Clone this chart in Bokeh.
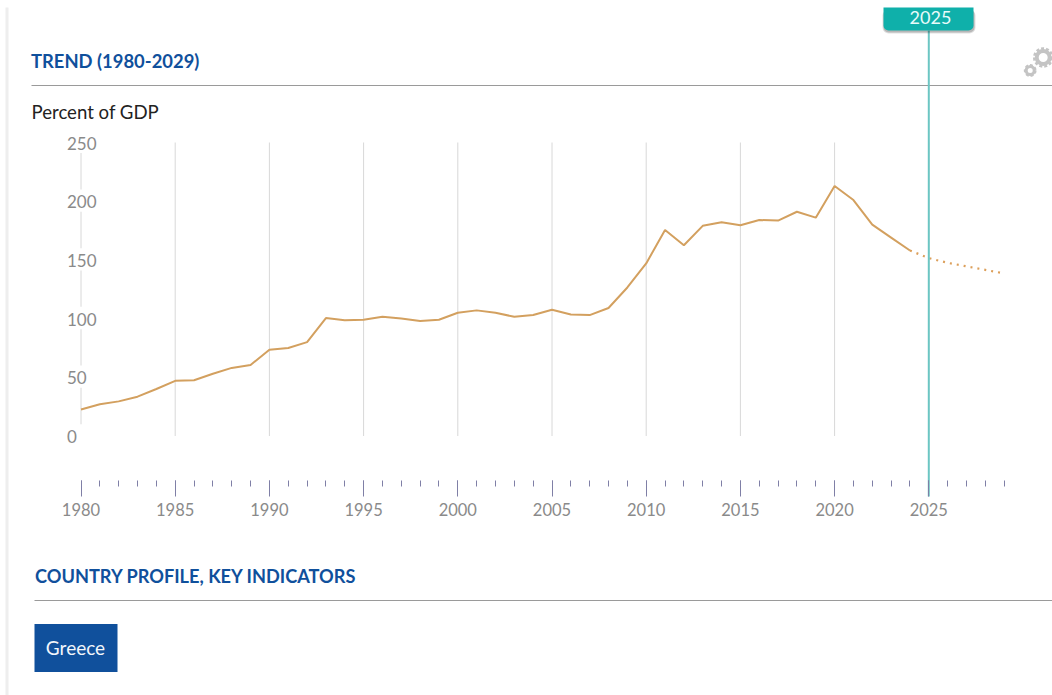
from bokeh.plotting import figure
from bokeh.embed import file_html
from bokeh.resources import INLINE
from bokeh.models import SingleIntervalTicker, LinearAxis, Range1d, Label, BoxAnnotation, ColumnDataSource
from bokeh.core.properties import value

years = list(range(1980, 2025))
actual = [22.5, 27, 29.5, 33.5, 40, 47, 47.5, 53, 58, 60.5,
          73.5, 75, 80, 100.5, 98.5, 99, 101.5, 100, 98, 99,
          105, 107, 105, 101.5, 103, 107.5, 103.5, 103, 109, 126.5,
          147, 175.5, 162.5, 179, 182, 179.5, 184, 183.5, 191, 186,
          213, 201, 180, 169, 158]
proj_years = [2024, 2025, 2026, 2027, 2028, 2029]
projected = [158, 151.5, 147.5, 144.5, 141.5, 138.5]
grid_years = [1980, 1985, 1990, 1995, 2000, 2005, 2010, 2015, 2020, 2025]
y_ticks = [0, 50, 100, 150, 200, 250]
y_labels = ["0", "50", "100", "150", "200", "250"]
current_year = 2025
title_text = "TREND (1980-2029)"
unit_text = "Percent of GDP"
section_text = "COUNTRY PROFILE, KEY INDICATORS"
country = "Greece"

W, H = 1052, 695
PX_YEAR, PX_UNIT = 18.84, 1.174
X0, Y0 = 80.5, 435.5
def X(px): return 1980 + (px - X0) / PX_YEAR
def Y(py): return (Y0 - py) / PX_UNIT

FONT = "Lato"
BLUE = "#10509c"
TEAL = "#0fb0aa"

p = figure(width=W, height=H, output_backend="svg", toolbar_location=None,
           x_range=Range1d(X(0), X(W)), y_range=Range1d(Y(H), Y(0)),
           x_axis_type=None, y_axis_type=None, min_border=0, tools="")
p.outline_line_color = None
p.grid.visible = False

def box(l, t, r, b, color, **kw):
    a = BoxAnnotation(left=X(l), right=X(r), top=Y(t), bottom=Y(b), fill_color=color,
                      fill_alpha=kw.pop("alpha", 1), line_color=None, level=kw.pop("level", "underlay"), **kw)
    p.add_layout(a)

def label(px, py, text, size, color, style="normal", align="left", level="overlay"):
    p.add_layout(Label(x=X(px), y=Y(py), text=text, text_font=FONT, text_font_size=f"{size}px",
                       text_color=color, text_font_style=style, text_align=align,
                       text_baseline="middle", level=level))

# page furniture
box(5, 7, 8, 695, "#eeeeee")
box(31, 84.5, 1052, 85.5, "#9a9a9a")
box(34, 599.5, 1052, 600.5, "#9a9a9a")
box(34, 623.5, 117, 671.5, BLUE)
label(30.5, 60, title_text, 18.4, BLUE, "bold")
label(31, 111, unit_text, 18.6, "#222222")
label(34.5, 575, section_text, 18.2, BLUE, "bold")
label(75, 647, country, 19, "#f2f6fb", align="center")

# gridlines
p.segment(x0=grid_years, x1=grid_years, y0=[0] * len(grid_years), y1=[y_ticks[-1]] * len(grid_years),
          line_color="#d8d8d8", line_width=1, level="underlay")
# white gaps behind the y labels
p.quad(left=[1980 - 0.12] * len(y_ticks), right=[1980 + 0.12] * len(y_ticks),
       bottom=[v - 9 for v in y_ticks], top=[v + 10 for v in y_ticks],
       fill_color="#ffffff", line_color=None, level="underlay")

# series
src = ColumnDataSource(dict(x=years, y=actual))
p.line("x", "y", source=src, line_color="#d3a05f", line_width=2)
p.line(proj_years, projected, line_color="#dc9f5a", line_width=2.2, line_dash="2 5")

# y tick labels
p.text(x=[1980] * len(y_ticks), y=y_ticks, text=y_labels, x_offset=-14, y_offset=0.5,
       text_font=value(FONT), text_font_size="17px", text_color="#8a8a8a",
       text_align="left", text_baseline="middle")

# x axis
xax = LinearAxis(ticker=SingleIntervalTicker(interval=5, num_minor_ticks=5), fixed_location=Y(480),
                 bounds=(1980, 2029))
xax.axis_line_color = None
xax.major_tick_line_color = "#7f7fa6"
xax.minor_tick_line_color = "#7f7fa6"
xax.major_tick_in = 0
xax.major_tick_out = 16
xax.minor_tick_in = 0
xax.minor_tick_out = 6
xax.major_label_standoff = 6
xax.major_label_text_font = FONT
xax.major_label_text_font_size = "16.5px"
xax.major_label_text_color = "#8a8a8a"
xax.formatter.use_scientific = False
p.add_layout(xax, "below")

# current-year marker
p.segment(x0=[current_year], x1=[current_year], y0=[Y(496)], y1=[Y(30)], line_color="#6cc6c3", line_width=2)
box(882, 9, 975, 33, "#000000", alpha=0.12, level="annotation", border_radius=6)
box(883, 9, 974, 32, "#000000", alpha=0.18, level="annotation", border_radius=5)
box(883, 7, 973, 30, TEAL, level="annotation", border_radius=(0, 0, 5, 5))
label(930, 17, str(current_year), 18, "#e8fbfa", align="center")

# settings gears
gx = [X(1042.7), X(1029.7)]
gy = [Y(57), Y(70)]
p.scatter(gx, gy, size=[13, 8], marker="circle", fill_color=None, line_color="#c4c4c4", line_width=[4, 3])
p.scatter(gx, gy, size=[18, 11], marker="circle", fill_color=None, line_color="#c4c4c4", line_width=[2.5, 1.8], line_dash="3 2")

open("out.html", "w").write(file_html(p, INLINE))
